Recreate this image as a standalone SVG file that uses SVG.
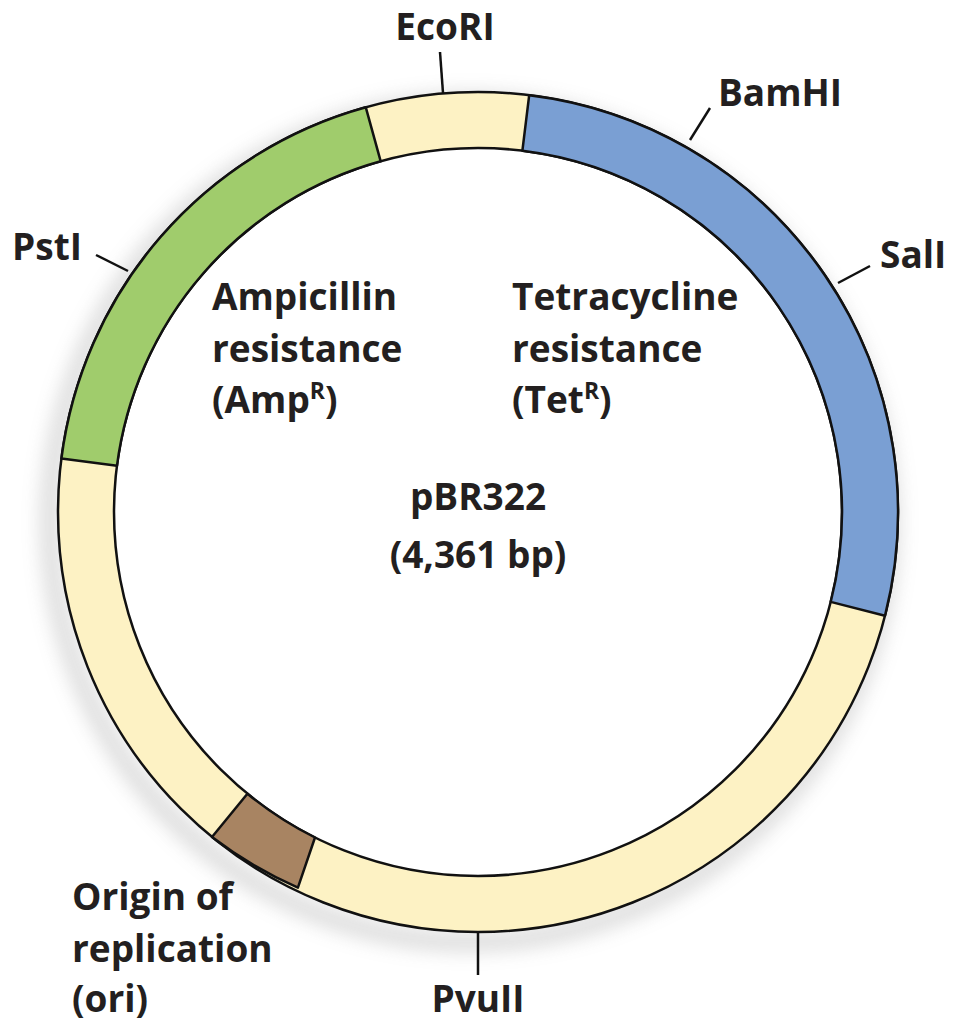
<svg xmlns="http://www.w3.org/2000/svg" width="966" height="1022" viewBox="0 0 966 1022">
<style>
text{font-family:"Open Sans","Liberation Sans",sans-serif;font-weight:bold;font-size:37px;fill:#231f20}
.seg{stroke:#111;stroke-width:2.5;stroke-linejoin:round}
.tick{stroke:#111;stroke-width:2.5;fill:none}
</style>
<defs>
<filter id="sh" x="-20%" y="-20%" width="140%" height="140%"><feGaussianBlur stdDeviation="10"/></filter>
</defs>
<rect width="966" height="1022" fill="#fff"/>
<g id="shadow" opacity="0.35">
<circle cx="470" cy="522" r="420" fill="none" stroke="#888" stroke-width="16" filter="url(#sh)"/>
</g>
<g id="ring">
<path class="seg" fill="#fdf2c4" fill-rule="evenodd" d="M898,512A420,420 0 1 1 58,512A420,420 0 1 1 898,512ZM842,512A364,364 0 1 0 114,512A364,364 0 1 0 842,512Z"/>
</g>
<g id="amp"><path class="seg" fill="#a0cc6c" d="M61.4,458.6A420,420 0 0 1 365.8,107.3L380.7,161.3A364,364 0 0 0 117,465.7Z"/></g>
<g id="tet"><path class="seg" fill="#7a9fd3" d="M529.2,95.2A420,420 0 0 1 885,615.7L830.7,601.9A364,364 0 0 0 522.4,150.7Z"/></g>
<g id="ori"><path class="seg" fill="#a88462" d="M297.9,887.6A420,420 0 0 1 212,837L247.4,793.7A364,364 0 0 0 315,837.5Z"/></g>
<g id="connectors">
<line class="tick" x1="443" y1="93" x2="440" y2="52"/>
<line class="tick" x1="690" y1="140" x2="710" y2="108"/>
<line class="tick" x1="838" y1="283" x2="870" y2="266"/>
<line class="tick" x1="96" y1="255" x2="128" y2="271"/>
<line class="tick" x1="478" y1="931" x2="478" y2="975"/>
</g>
<g id="labels">
<text x="445" y="40" text-anchor="middle">EcoRI</text>
<text x="718" y="106">BamHI</text>
<text x="880" y="268">SalI</text>
<text x="12" y="260">PstI</text>
<text x="212" y="310">Ampicillin</text>
<text x="212" y="362">resistance</text>
<text x="212" y="413">(Amp<tspan font-size="23" dy="-14">R</tspan><tspan dy="14">)</tspan></text>
<text x="512" y="310">Tetracycline</text>
<text x="512" y="362">resistance</text>
<text x="512" y="413">(Tet<tspan font-size="23" dy="-14">R</tspan><tspan dy="14">)</tspan></text>
<text x="478" y="510" text-anchor="middle" font-size="42">pBR322</text>
<text x="478" y="568" text-anchor="middle">(4,361 bp)</text>
<text x="72" y="910">Origin of</text>
<text x="72" y="962">replication</text>
<text x="72" y="1012">(ori)</text>
<text x="478" y="1012" text-anchor="middle">PvuII</text>
</g>
</svg>
